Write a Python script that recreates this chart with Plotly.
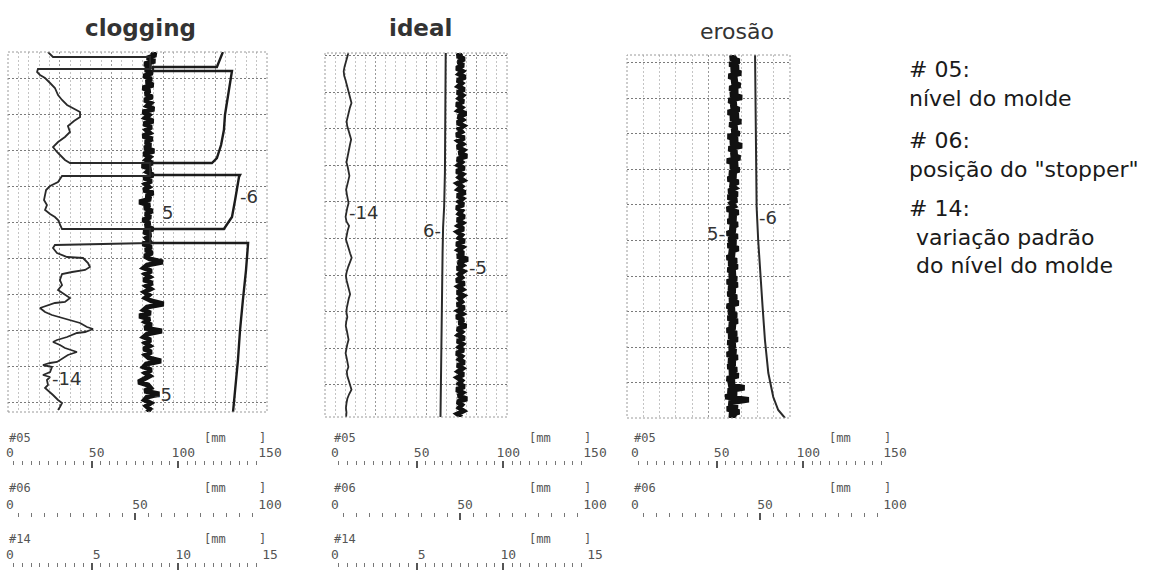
import numpy as np
import plotly.graph_objects as go

W, H = 1172, 574

# ---------------- data ----------------
# time axis = chart-paper position (0 = top of strip), arbitrary units
# ---- clogging ----
clog_lvl05 = [84.5, 87.0, 82.0, 86.5, 80.5, 84.0, 81.0, 85.0, 80.0, 84.5,
              81.5, 85.5, 79.5, 83.5, 81.0, 85.0, 80.5, 84.0, 82.0, 86.0,
              79.5, 83.0, 81.0, 85.5, 80.0, 84.5, 81.5, 83.5, 79.5, 85.0,
              81.0, 84.0, 80.5, 86.0, 80.0, 83.5, 81.5, 85.0, 79.0, 84.0,
              82.0, 85.5, 80.0, 84.5, 81.0, 83.0, 80.0, 85.5, 81.5, 84.0,
              77.5, 83.5, 80.5, 85.0, 81.0, 84.0, 79.5, 83.5, 81.0, 85.5,
              80.0, 84.0, 81.5, 83.0, 79.5, 84.5, 81.0, 85.0, 80.5, 83.5,
              91.0, 82.0, 80.0, 84.5, 81.0, 83.5, 80.0, 85.0, 81.5, 84.0,
              80.5, 83.0, 81.0, 84.5, 91.5, 82.0, 80.0, 84.0, 77.5, 83.5,
              81.0, 84.5, 80.5, 90.5, 82.0, 80.0, 84.0, 81.0, 83.5, 80.0,
              84.5, 81.0, 83.0, 90.0, 81.5, 80.0, 84.5, 81.0, 83.5, 80.5,
              77.0, 82.5, 84.0, 80.5, 89.0, 82.0, 80.5, 84.0, 81.5, 83.5,
              82.0]
clog_t06 = [0, 15, 15, 19, 19, 33, 48, 63, 78, 93, 106, 111, 111, 123, 123,
            125, 148, 165, 168, 177, 177, 191, 191, 218, 248, 278, 308, 338, 360]
clog_pos06 = [83.8, 81.5, 56.9, 56.9, 87.3, 86.5, 85.4, 84.6, 84.2, 83.1, 81.5,
              79.6, 55.8, 55.8, 90.4, 90.0, 88.5, 87.3, 86.5, 84.2, 55.8, 55.8,
              93.5, 92.7, 91.5, 90.4, 89.6, 88.5, 87.7]
clog_t14 = [0, 5, 5, 17, 17, 20, 23, 26, 31, 36, 43, 48, 53, 56, 60, 65, 69, 74,
            80, 85, 90, 95, 100, 105, 108, 111, 111, 124, 124, 130, 134, 138,
            143, 148, 153, 158, 162, 165, 168, 173, 177, 177, 191, 193, 196,
            201, 205, 206, 211, 215, 218, 220, 222, 228, 233, 238, 243, 246,
            250, 251, 256, 260, 263, 266, 268, 271, 275, 277, 280, 281, 285,
            288, 290, 293, 296, 300, 303, 306, 310, 311, 313, 315, 320, 323,
            325, 328, 333, 336, 340, 343, 348, 351, 355, 358]
clog_sd14 = [2.48, 2.77, 8.37, 8.37, 1.90, 1.85, 2.02, 2.31, 2.60, 2.88,
             3.06, 3.29, 3.58, 3.92, 4.33, 4.33, 3.98, 3.63, 3.75, 3.46,
             3.06, 2.77, 3.00, 3.29, 3.46, 3.75, 8.37, 8.37, 3.29, 3.06,
             2.60, 2.37, 2.31, 2.25, 2.42, 2.31, 2.60, 2.88, 3.06, 3.17,
             3.29, 8.37, 8.37, 2.88, 2.77, 3.00, 3.58, 4.50, 4.79, 4.90,
             4.62, 3.87, 3.29, 3.17, 3.29, 3.06, 3.46, 3.75, 3.46, 2.88,
             2.02, 2.31, 2.71, 3.29, 3.75, 4.33, 4.73, 5.08, 4.62, 4.15,
             3.58, 3.00, 2.77, 3.17, 3.46, 4.15, 3.63, 3.35, 3.00, 2.60,
             2.19, 2.71, 2.60, 2.19, 2.60, 2.42, 2.48, 2.31, 2.60, 2.77,
             3.06, 3.29, 3.17, 3.06]

# ---- ideal ----
ideal_lvl05 = [76.0, 73.5, 77.5, 74.0, 77.0, 73.0, 76.5, 74.5, 78.0, 73.5,
               76.0, 74.0, 77.5, 73.5, 76.5, 74.5, 77.0, 73.0, 76.0, 74.0,
               78.5, 74.0, 76.5, 73.5, 77.0, 74.5, 76.0, 73.0, 77.5, 74.0,
               76.5, 73.5, 77.0, 74.5, 79.0, 73.5, 76.0, 74.0, 77.5, 73.0,
               76.5, 74.5, 77.0, 73.5, 76.0, 74.0, 78.0, 73.5, 76.5, 74.5,
               77.0, 73.0, 76.0, 74.5, 77.5, 73.5, 76.5, 74.0, 77.0, 73.5,
               76.0, 74.5, 77.5, 73.0, 76.5, 74.0, 77.0, 73.5, 79.5, 74.0,
               76.5, 73.5, 77.0, 74.5, 76.0, 73.0, 77.5, 74.0, 76.5, 73.5,
               77.0, 74.5, 76.0, 73.5, 77.5, 74.0, 76.5, 73.0, 77.0, 74.5,
               78.5, 73.5, 76.0, 74.0, 77.5, 73.5, 76.5, 74.5, 77.0, 73.0,
               76.0, 74.5, 77.5, 73.5, 76.5, 74.0, 77.0, 73.5, 76.0, 74.5,
               77.5, 73.0, 76.5, 74.0, 79.0, 73.5, 76.0, 74.5, 77.0, 73.5,
               76.0]
ideal_t06 = [0, 60, 120, 154, 174, 200, 220, 254, 287, 320, 364]
ideal_pos06 = [44.5, 44.4, 44.2, 43.9, 43.5, 43.3, 43.2, 42.9, 42.7, 42.6, 42.5]
ideal_sd14 = [1.06, 0.98, 0.90, 0.84, 0.79, 0.82, 0.90, 0.97, 1.05, 1.12,
              1.18, 1.24, 1.15, 1.08, 1.02, 0.96, 0.99, 1.08, 1.15, 1.22,
              1.16, 1.10, 1.03, 0.98, 0.95, 1.02, 1.08, 1.12, 1.06, 0.99,
              0.93, 0.97, 1.03, 1.07, 1.00, 0.94, 0.90, 0.95, 1.10, 1.02,
              0.97, 0.92, 1.00, 1.06, 1.16, 1.25, 1.14, 1.05, 0.97, 0.92,
              0.96, 1.04, 1.12, 1.16, 1.08, 1.02, 0.97, 0.95, 1.00, 0.94,
              0.91, 0.97, 1.03, 1.07, 1.00, 0.94, 0.90, 0.96, 1.02, 1.06,
              0.97, 1.00, 1.08, 1.16, 1.24, 1.10, 1.00, 0.95, 0.92, 0.95,
              0.93]

# ---- erosão ----
eros_lvl05 = [61.0, 58.0, 63.0, 57.5, 62.5, 58.5, 64.0, 57.0, 61.5, 59.0,
              63.5, 57.5, 62.0, 58.0, 64.5, 57.0, 61.0, 58.5, 63.0, 56.5,
              62.5, 58.0, 64.0, 57.5, 61.5, 59.0, 63.0, 56.5, 62.0, 58.0,
              64.5, 57.0, 61.5, 58.5, 63.5, 56.0, 62.0, 58.0, 63.0, 57.5,
              61.0, 56.5, 62.5, 58.0, 60.5, 57.0, 62.0, 56.5, 61.5, 58.5,
              60.0, 56.0, 62.5, 57.5, 61.0, 56.5, 62.0, 58.0, 60.5, 56.0,
              62.0, 57.0, 61.0, 56.5, 62.5, 57.5, 60.0, 56.0, 61.5, 57.0,
              62.0, 56.5, 60.5, 57.5, 61.5, 56.0, 62.0, 57.0, 60.5, 56.5,
              61.5, 57.5, 62.5, 56.0, 60.0, 57.0, 61.5, 56.5, 62.0, 57.5,
              60.5, 56.0, 61.5, 57.0, 62.0, 56.5, 60.5, 57.5, 61.0, 56.0,
              62.0, 57.0, 60.5, 56.5, 61.5, 57.5, 62.5, 56.0, 60.0, 57.0,
              66.0, 56.5, 61.5, 55.0, 68.5, 57.0, 62.0, 56.0, 63.0, 57.5,
              61.0]
eros_t06 = [0, 85, 152, 185, 218, 252, 285, 318, 342, 355, 363]
eros_pos06 = [48.1, 48.3, 48.7, 49.3, 50.0, 51.0, 51.9, 53.2, 55.1, 57.0, 59.6]

panel_titles = ["clogging", "ideal", "erosão"]
scale_names = ["#05", "#06", "#14"]
scale_max = [150, 100, 15]
scale_major = [50, 50, 5]
scale_minor = [5, 5, 0.5]
legend_blocks = ["# 05:<br>nível do molde",
                 '# 06:<br>posição do "stopper"',
                 "# 14:<br>\u00a0variação padrão<br>\u00a0do nível do molde"]

# ---------------- layout geometry (pixels) ----------------
def fx(px):
    return px / W

def fy(py):
    return 1 - py / H

INK = "#1c1c1c"
panels = [
    dict(gl=8, gr=267, top=52, bot=412, tlen=360, ndiv=25, g0=26, gd=36, sl=5, nsc=3, title_x=140, title_y=28),
    dict(gl=325, gr=507, top=53, bot=417, tlen=364, ndiv=18, g0=39, gd=36.6, sl=330, nsc=3, title_x=420, title_y=28),
    dict(gl=627, gr=790, top=55, bot=418, tlen=363, ndiv=10, g0=43, gd=35.6, sl=630, nsc=2, title_x=737, title_y=32),
]
scale_rows = [(438, 460), (488, 512), (539, 562)]  # (name label y, axis line y)

layout = dict(width=W, height=H, margin=dict(l=0, r=0, t=0, b=0, autoexpand=False),
              paper_bgcolor="white", plot_bgcolor="rgba(0,0,0,0)",
              showlegend=False)
annotations = []
shapes = []
traces = []

xid = 4
for i, p in enumerate(panels):
    gi = i + 1
    di = i + 4
    ydom = [fy(p["bot"]), fy(p["top"])]
    layout[f"xaxis{gi}"] = dict(domain=[fx(p["gl"]), fx(p["gr"])], range=[0, p["ndiv"]],
                               anchor=f"y{gi}", showgrid=True, dtick=5, tick0=0,
                               gridcolor="#9a9a9a", griddash="2px,2px", gridwidth=1,
                               minor=dict(dtick=1, showgrid=True, gridcolor="#c4c4c4",
                                          griddash="2px,2px", gridwidth=1),
                               showticklabels=False, ticks="", zeroline=False,
                               showline=False, fixedrange=True, automargin=False)
    layout[f"yaxis{gi}"] = dict(domain=ydom, range=[p["tlen"], 0], anchor=f"x{gi}",
                               showgrid=True, tick0=p["g0"], dtick=p["gd"],
                               gridcolor="#7a7a7a", griddash="2px,2px", gridwidth=1,
                               showticklabels=False, ticks="", zeroline=False,
                               showline=False, fixedrange=True, automargin=False)
    traces.append(go.Scatter(x=[None], y=[None], xaxis=f"x{gi}", yaxis=f"y{gi}",
                             hoverinfo="skip"))
    shapes.append(dict(type="rect", xref="paper", yref="paper",
                       x0=fx(p["gl"]), x1=fx(p["gr"]), y0=ydom[0], y1=ydom[1],
                       line=dict(color="#9a9a9a", width=1, dash="2px,2px")))
    layout[f"yaxis{di}"] = dict(domain=ydom, range=[p["tlen"], 0], visible=False,
                               anchor=f"x{xid}", fixedrange=True, automargin=False)
    sx = {}
    for k in range(p["nsc"]):
        lab_y, line_y = scale_rows[k]
        layout[f"xaxis{xid}"] = dict(
            domain=[fx(p["sl"]), fx(p["sl"] + 260)], range=[0, scale_max[k]],
            anchor="free", position=fy(line_y), side="top",
            tickmode="linear", tick0=0, dtick=scale_major[k],
            ticks="inside", ticklen=7, tickwidth=2, tickcolor="#555",
            minor=dict(dtick=scale_minor[k], tick0=0, ticks="inside", ticklen=4,
                       tickwidth=1.2, tickcolor="#777", showgrid=False),
            showgrid=False, zeroline=False, showline=False, fixedrange=True,
            automargin=False, ticklabelshift=5,
            tickfont=dict(family="DejaVu Sans Mono", size=13, color="#555"))
        sx[k] = f"x{xid}"
        for txt, off in ((scale_names[k], 2), ("[mm", 197), ("]", 252)):
            annotations.append(dict(text=txt, x=fx(p["sl"] + off), y=fy(lab_y),
                                    xref="paper", yref="paper", xanchor="left", yanchor="middle",
                                    showarrow=False,
                                    font=dict(family="DejaVu Sans Mono", size=12, color="#555")))
        xid += 1
    p["sx"] = sx
    p["yd"] = f"y{di}"
    annotations.append(dict(text=panel_titles[i], x=fx(p["title_x"]), y=fy(p["title_y"]),
                            xref="paper", yref="paper", xanchor="center", yanchor="middle",
                            showarrow=False,
                            font=dict(family="DejaVu Sans", size=23 if i < 2 else 22,
                                      color="#333", weight="bold" if i < 2 else "normal")))

# ---------------- traces ----------------
def line(x, y, xa, ya, w, color=INK):
    return go.Scatter(x=x, y=y, xaxis=xa, yaxis=ya, mode="lines",
                      line=dict(color=color, width=w), hoverinfo="skip")

P1, P2, P3 = panels
traces.append(line(clog_sd14, clog_t14, P1["sx"][2], P1["yd"], 1.8, "#2a2a2a"))
traces.append(line(clog_pos06, clog_t06, P1["sx"][1], P1["yd"], 2.4))
traces.append(line(clog_lvl05, np.linspace(0, P1["tlen"], len(clog_lvl05)), P1["sx"][0], P1["yd"], 5, "#111"))

traces.append(line(ideal_sd14, np.linspace(0, P2["tlen"], len(ideal_sd14)), P2["sx"][2], P2["yd"], 1.8, "#2a2a2a"))
traces.append(line(ideal_pos06, ideal_t06, P2["sx"][1], P2["yd"], 2.0, "#2a2a2a"))
traces.append(line(ideal_lvl05, np.linspace(0, P2["tlen"], len(ideal_lvl05)), P2["sx"][0], P2["yd"], 5, "#111"))

traces.append(line(eros_pos06, eros_t06, P3["sx"][1], P3["yd"], 2.0, "#2a2a2a"))
traces.append(line(eros_lvl05, np.linspace(0, P3["tlen"], len(eros_lvl05)), P3["sx"][0], P3["yd"], 5.5, "#111"))

curve_labels = [("-6", 238, 196, "left"), ("5", 160, 213, "left"), ("-5", 152, 394, "left"),
                ("-14", 50, 378, "left"),
                ("-14", 347, 213, "left"), ("6-", 443, 230, "right"), ("-5", 467, 268, "left"),
                ("5-", 727, 233, "right"), ("-6", 757, 217, "left")]
for txt, px, py, anc in curve_labels:
    annotations.append(dict(text=txt, x=fx(px), y=fy(py), xref="paper", yref="paper",
                            xanchor=anc, yanchor="middle", showarrow=False,
                            font=dict(family="DejaVu Sans", size=18, color="#333")))

legend_pos = [(907, 84), (907, 155), (907, 237)]
for txt, (px, py) in zip(legend_blocks, legend_pos):
    annotations.append(dict(text=txt, x=fx(px), y=fy(py), xref="paper", yref="paper",
                            xanchor="left", yanchor="middle", align="left", showarrow=False,
                            font=dict(family="DejaVu Sans", size=22, color="#1a1a1a")))

layout["annotations"] = annotations
layout["shapes"] = shapes
fig = go.Figure(data=traces, layout=layout)
fig.write_html("out.html", config={"displayModeBar": False},
               post_script="document.body.style.margin='0';document.body.style.padding='0';")
